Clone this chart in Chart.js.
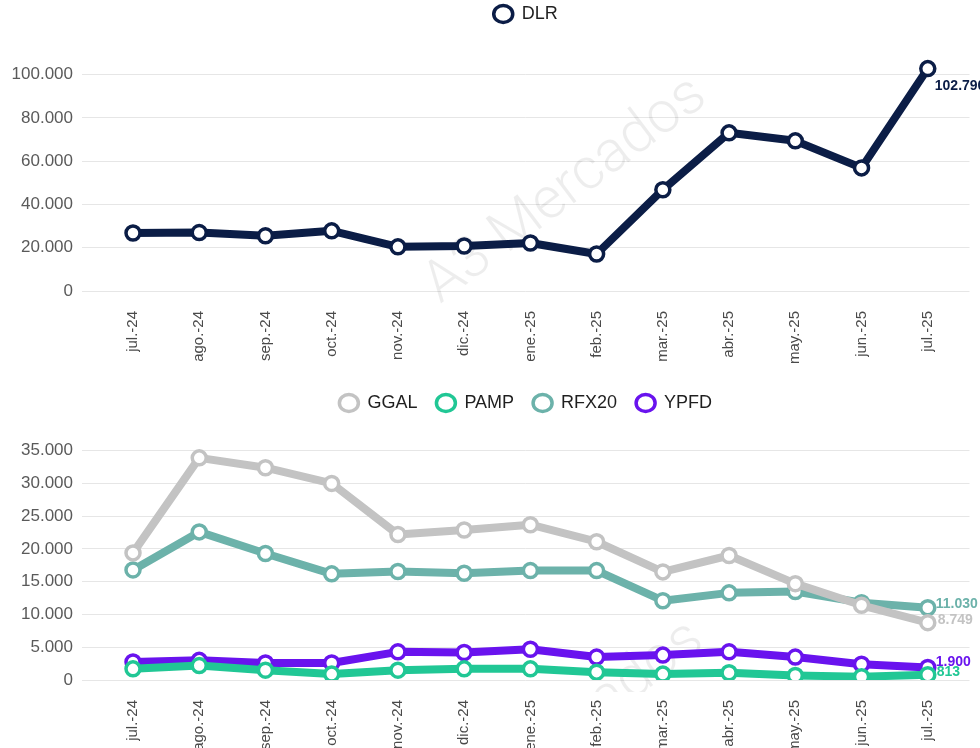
<!DOCTYPE html>
<html>
<head>
<meta charset="utf-8">
<script src="https://cdn.jsdelivr.net/npm/chart.js@4.4.1/dist/chart.umd.min.js"></script>
<style>
html, body { margin: 0; padding: 0; background: #fff; }
#wrap { position: relative; width: 980px; height: 748px; overflow: hidden; }
.box { position: absolute; left: 0; width: 980px; }
</style>
</head>
<body>
<div id="wrap">
    <div class="box" style="top:0;height:375px;"><canvas id="c-dlr" width="980" height="375"></canvas></div>
    <div class="box" style="top:375px;height:373px;"><canvas id="c-acc" width="980" height="373"></canvas></div>
</div>
<script>
// ===== data =====
var months = ['jul.-24', 'ago.-24', 'sep.-24', 'oct.-24', 'nov.-24', 'dic.-24', 'ene.-25', 'feb.-25', 'mar.-25', 'abr.-25', 'may.-25', 'jun.-25', 'jul.-25'];
var dlr   = [26800, 27000, 25500, 27800, 20400, 20800, 22200, 17100, 46800, 73100, 69400, 56900, 102790];
var ggal  = [19400, 33900, 32400, 30000, 22200, 22900, 23700, 21100, 16500, 19000, 14700, 11400, 8749];
var pamp  = [1700, 2200, 1500, 900, 1500, 1700, 1700, 1200, 900, 1100, 700, 500, 813];
var rfx20 = [16800, 22600, 19300, 16200, 16550, 16300, 16700, 16700, 12100, 13300, 13500, 11800, 11030];
var ypfd  = [2750, 3000, 2600, 2600, 4300, 4200, 4700, 3500, 3800, 4300, 3500, 2400, 1900];

var dlrTicks = { max: 110000, step: 20000, last: 100000 };
var accTicks = { max: 38000, step: 5000, last: 35000 };

var FONT = '"Liberation Sans", Arial, sans-serif';
var COLORS = { dlr: '#0b1d46', ggal: '#c3c3c3', pamp: '#21c795', rfx20: '#6cb2aa', ypfd: '#6913ee' };

function fmt(v) {
    return String(Math.round(v)).replace(/\B(?=(\d{3})+(?!\d))/g, '.');
}

function toPoints(arr) {
    var out = [];
    for (var i = 0; i < arr.length; i++) out.push({ x: i, y: arr[i] });
    return out;
}

function series(label, values, color, dx, dy) {
    return {
        label: label, data: toPoints(values),
        borderColor: color, backgroundColor: color,
        borderWidth: 8, tension: 0, borderJoinStyle: 'round', borderCapStyle: 'round',
        pointRadius: 7, pointBorderWidth: 3.5, pointBackgroundColor: '#fff', pointBorderColor: color,
        pointStyle: 'circle', labelDx: dx, labelDy: dy
    };
}

// -- plugins --
var legendHeight = {
    id: 'legendHeight',
    afterInit: function(chart, args, opts) {
        var lg = chart.legend;
        if (!lg) return;
        var fit = lg.fit;
        lg.fit = function() { fit.call(this); this.height = opts.height; };
    }
};

var watermark = {
    id: 'watermark',
    beforeDatasetsDraw: function(chart, args, opts) {
        var ctx = chart.ctx;
        ctx.save();
        ctx.beginPath();
        ctx.rect(0, 0, chart.width, opts.clipBottom);
        ctx.clip();
        ctx.translate(opts.x, opts.y);
        ctx.rotate(-37 * Math.PI / 180);
        ctx.font = '300 58px Roboto, ' + FONT;
        ctx.fillStyle = 'rgba(0,0,0,0.07)';
        ctx.textAlign = 'center';
        ctx.textBaseline = 'middle';
        ctx.fillText('A3 Mercados', 0, 0);
        ctx.restore();
    }
};

var endLabels = {
    id: 'endLabels',
    afterDatasetsDraw: function(chart) {
        var ctx = chart.ctx;
        chart.data.datasets.forEach(function(ds, i) {
            var meta = chart.getDatasetMeta(i);
            var pt = meta.data[meta.data.length - 1];
            var last = ds.data[ds.data.length - 1].y;
            ctx.save();
            ctx.font = 'bold 14px ' + FONT;
            ctx.fillStyle = ds.borderColor;
            ctx.textBaseline = 'middle';
            ctx.textAlign = 'left';
            ctx.fillText(fmt(last), pt.x + ds.labelDx, pt.y + ds.labelDy);
            ctx.restore();
        });
    }
};

function buildOptions(yCfg, legendCfg, wm, axisHeight) {
    return {
        responsive: false, animation: false,
        layout: { padding: { left: 0, right: 0, top: 0, bottom: 0 } },
        plugins: {
            tooltip: { enabled: false },
            legend: {
                position: 'top', fullSize: false,
                labels: {
                    usePointStyle: true, pointStyleWidth: 19, boxHeight: 12,
                    padding: legendCfg.padding, color: '#1f1f1f',
                    font: { family: FONT, size: 18 }
                }
            },
            legendHeight: { height: legendCfg.height },
            watermark: wm
        },
        scales: {
            x: {
                type: 'linear', min: -0.77, max: 12.63,
                grid: { display: false, drawTicks: false },
                border: { display: false },
                ticks: {
                    stepSize: 1, includeBounds: false, autoSkip: false,
                    minRotation: 90, maxRotation: 90, padding: 20,
                    color: '#4a4a4a', font: { family: FONT, size: 15 },
                    callback: function(v) { return months[v]; }
                },
                afterFit: function(scale) { scale.height = axisHeight; }
            },
            y: {
                min: 0, max: yCfg.max,
                grid: { color: '#e6e6e6', lineWidth: 1, drawTicks: false },
                border: { display: false },
                ticks: {
                    padding: 9,
                    color: '#5a5a5a', font: { family: FONT, size: 17 },
                    callback: function(v) { return fmt(v); }
                },
                afterBuildTicks: function(scale) {
                    var t = [];
                    for (var v = 0; v <= yCfg.last; v += yCfg.step) t.push({ value: v });
                    scale.ticks = t;
                },
                afterFit: function(scale) { scale.width = 82; }
            }
        }
    };
}

new Chart(document.getElementById('c-dlr'), {
    type: 'line',
    data: { datasets: [series('DLR', dlr, COLORS.dlr, 7, 18)] },
    options: buildOptions(dlrTicks, { padding: 5, height: 53 }, { x: 566, y: 191, clipBottom: 375 }, 84),
    plugins: [legendHeight, watermark, endLabels]
});

new Chart(document.getElementById('c-acc'), {
    type: 'line',
    data: {
        datasets: [
            series('GGAL', ggal, COLORS.ggal, 10, -3),
            series('PAMP', pamp, COLORS.pamp, 9, -3),
            series('RFX20', rfx20, COLORS.rfx20, 8, -4),
            series('YPFD', ypfd, COLORS.ypfd, 8, -5)
        ]
    },
    options: buildOptions(accTicks, { padding: 19, height: 56 }, { x: 563, y: 360, clipBottom: 317 }, 68),
    plugins: [legendHeight, watermark, endLabels]
});
</script>
</body>
</html>
